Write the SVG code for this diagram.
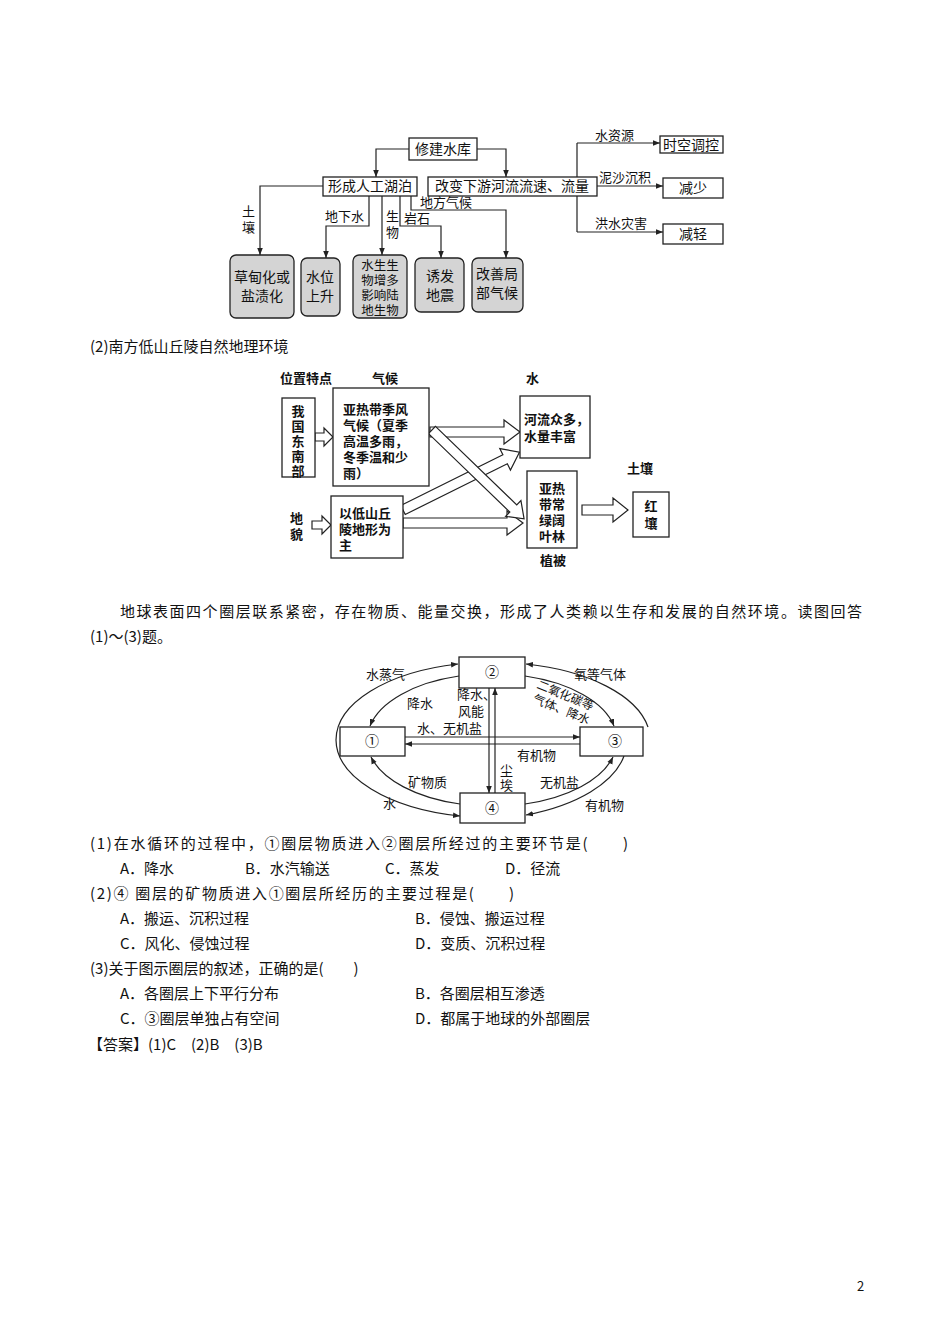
<svg xmlns="http://www.w3.org/2000/svg" width="950" height="1344" viewBox="0 0 950 1344">
<defs>
<marker id="ah" viewBox="0 0 10 10" refX="10" refY="5" markerWidth="7" markerHeight="7" orient="auto" markerUnits="userSpaceOnUse"><path d="M0,1 L10,5 L0,9 Z" fill="#222"/></marker>
</defs>
<style>
text{font-family:"Noto Sans CJK SC","Liberation Sans",sans-serif;fill:#111}
.t{font-size:14px}
.s{font-size:13px}
.b{font-size:15px;font-family:"Noto Sans CJK SC","Liberation Serif",serif}
.bx{fill:#fff;stroke:#222;stroke-width:1.3}
.gb{fill:#d4d4d4;stroke:#222;stroke-width:1.3}
.ln{fill:none;stroke:#222;stroke-width:1.2}
.la{fill:none;stroke:#222;stroke-width:1.2;marker-end:url(#ah)}
.ha{fill:#fff;stroke:#222;stroke-width:1.2}
</style>
<rect width="950" height="1344" fill="#fff"/>

<!-- Diagram 1 -->
<g id="d1-connectors">
<path class="la" d="M409,149 H376 V177"/>
<path class="la" d="M477,149 H506 V177"/>
<path class="la" d="M323,186 H260 V255"/>
<path class="la" d="M369,196 V226 H326 V258"/>
<path class="la" d="M382,196 V255"/>
<path class="la" d="M400,196 V226 H441 V258"/>
<path class="la" d="M411,196 V210 H506 V258"/>
<path class="ln" d="M597,186 H577 M577,143 V232"/>
<path class="la" d="M577,143 H660"/>
<path class="la" d="M597,186 H663"/>
<path class="la" d="M577,232 H663"/>
</g>
<g id="d1-labels" class="s">
<text x="242" y="216">土</text><text x="242" y="232">壤</text>
<text x="325" y="221">地下水</text>
<text x="386" y="221">生</text><text x="386" y="237">物</text>
<text x="404" y="223">岩石</text>
<text x="420" y="207">地方气候</text>
<text x="595" y="140">水资源</text>
<text x="599" y="182">泥沙沉积</text>
<text x="595" y="228">洪水灾害</text>
</g>
<g id="n-xiujian"><rect class="bx" x="409" y="138" width="68" height="22"/><text class="t" x="443" y="154" text-anchor="middle">修建水库</text></g>
<g id="n-hupo"><rect class="bx" x="323" y="177" width="94" height="19"/><text class="t" x="370" y="191" text-anchor="middle">形成人工湖泊</text></g>
<g id="n-gaibian"><rect class="bx" x="428" y="177" width="169" height="19"/><text class="t" x="512" y="191" text-anchor="middle">改变下游河流流速、流量</text></g>
<g id="n-shikong"><rect class="bx" x="660" y="136" width="63" height="17"/><text class="t" x="691" y="150" text-anchor="middle">时空调控</text></g>
<g id="n-jianshao"><rect class="bx" x="663" y="178" width="60" height="20"/><text class="t" x="693" y="193" text-anchor="middle">减少</text></g>
<g id="n-jianqing"><rect class="bx" x="663" y="224" width="60" height="20"/><text class="t" x="693" y="239" text-anchor="middle">减轻</text></g>
<g id="n-caodian"><rect class="gb" x="230" y="255" width="64" height="63" rx="6"/><text class="t" x="262" y="282" text-anchor="middle">草甸化或</text><text class="t" x="262" y="301" text-anchor="middle">盐渍化</text></g>
<g id="n-shuiwei"><rect class="gb" x="301" y="258" width="39" height="58" rx="6"/><text class="t" x="320" y="282" text-anchor="middle">水位</text><text class="t" x="320" y="301" text-anchor="middle">上升</text></g>
<g id="n-shengwu"><rect class="gb" x="353" y="255" width="54" height="63" rx="6"/><g font-size="12.5" text-anchor="middle"><text x="380" y="270">水生生</text><text x="380" y="285">物增多</text><text x="380" y="300">影响陆</text><text x="380" y="315">地生物</text></g></g>
<g id="n-dizhen"><rect class="gb" x="415" y="258" width="49" height="54" rx="6"/><text class="t" x="440" y="281" text-anchor="middle">诱发</text><text class="t" x="440" y="300" text-anchor="middle">地震</text></g>
<g id="n-qihou"><rect class="gb" x="472" y="258" width="51" height="54" rx="6"/><text class="t" x="497" y="279" text-anchor="middle">改善局</text><text class="t" x="497" y="298" text-anchor="middle">部气候</text></g>

<text class="b" x="90" y="352">(2)南方低山丘陵自然地理环境</text>

<!-- Diagram 2 -->
<g id="d2-labels" class="s" font-weight="bold">
<text x="280" y="383">位置特点</text>
<text x="372" y="383">气候</text>
<text x="526" y="383">水</text>
<text x="627" y="473">土壤</text>
<text x="540" y="565">植被</text>
<text x="290" y="523">地</text><text x="290" y="539">貌</text>
</g>
<g id="d2-connectors">
<polygon class="ha" transform="translate(315,437)" points="0,-4 9,-4 9,-9 18,0 9,9 9,4 0,4"/>
<polygon class="ha" transform="translate(312,525)" points="0,-4 10,-4 10,-9 19,0 10,9 10,4 0,4"/>
<polygon class="ha" transform="translate(430,432)" points="0,-5 74,-5 74,-12 90,0 74,12 74,5 0,5"/>
<polygon class="ha" transform="translate(403,523)" points="0,-5 104,-5 104,-12 120,0 104,12 104,5 0,5"/>
<polygon class="ha" transform="translate(403,510) rotate(-26.4)" points="0,-5 114,-5 114,-12 130,0 114,12 114,5 0,5"/>
<polygon class="ha" transform="translate(432,430) rotate(44)" points="0,-5 113,-5 113,-11 128,0 113,11 113,5 0,5"/>
<polygon class="ha" transform="translate(582,510)" points="0,-5 31,-5 31,-12 46,0 31,12 31,5 0,5"/>
</g>
<g id="n-dongnan"><rect class="bx" x="282" y="398" width="33" height="79"/><g class="s" font-weight="bold" text-anchor="middle"><text x="298" y="416">我</text><text x="298" y="431">国</text><text x="298" y="446">东</text><text x="298" y="461">南</text><text x="298" y="476">部</text></g></g>
<g id="n-jifeng"><rect class="bx" x="333" y="388" width="96" height="98"/><g class="s" font-weight="bold"><text x="343" y="414">亚热带季风</text><text x="343" y="430">气候（夏季</text><text x="343" y="446">高温多雨，</text><text x="343" y="462">冬季温和少</text><text x="343" y="478">雨）</text></g></g>
<g id="n-dixing"><rect class="bx" x="331" y="496" width="72" height="62"/><g class="s" font-weight="bold"><text x="339" y="518">以低山丘</text><text x="339" y="534">陵地形为</text><text x="339" y="550">主</text></g></g>
<g id="n-heliu"><rect class="bx" x="520" y="396" width="70" height="62"/><g class="s" font-weight="bold"><text x="524" y="424">河流众多，</text><text x="524" y="441">水量丰富</text></g></g>
<g id="n-senlin"><rect class="bx" x="527" y="471" width="50" height="77"/><g class="s" font-weight="bold" text-anchor="middle"><text x="552" y="493">亚热</text><text x="552" y="509">带常</text><text x="552" y="525">绿阔</text><text x="552" y="541">叶林</text></g></g>
<g id="n-hongrang"><rect class="bx" x="633" y="492" width="36" height="45"/><g class="s" font-weight="bold" text-anchor="middle"><text x="651" y="511">红</text><text x="651" y="528">壤</text></g></g>

<text class="b" x="120" y="617" textLength="742" lengthAdjust="spacing">地球表面四个圈层联系紧密，存在物质、能量交换，形成了人类赖以生存和发展的自然环境。读图回答</text>
<text class="b" x="90" y="642">(1)～(3)题。</text>

<!-- Diagram 3 -->
<g id="d3-connectors">
<path class="la" d="M336,740 A156,78 0 0 1 458,664"/>
<path class="la" d="M648,727 A156,78 0 0 0 526,664"/>
<path class="la" d="M336,740 A156,78 0 0 0 460,816"/>
<path class="la" d="M624,756 A156,78 0 0 1 526,815"/>
<path class="la" d="M459,676 A125,66 0 0 0 370,726"/>
<path class="la" d="M525,676 A125,66 0 0 1 614,726"/>
<path class="la" d="M460,804 A125,66 0 0 1 371,757"/>
<path class="la" d="M525,804 A125,66 0 0 0 613,757"/>
<path class="la" d="M405,737 H580"/>
<path class="la" d="M580,744 H405"/>
<path class="la" d="M489,688 V793"/>
<path class="la" d="M495,793 V688"/>
</g>
<g id="n-c2"><rect class="bx" x="459" y="657" width="66" height="31"/><text class="t" x="492" y="677" text-anchor="middle">②</text></g>
<g id="n-c1"><rect class="bx" x="340" y="727" width="65" height="29"/><text class="t" x="372" y="746" text-anchor="middle">①</text></g>
<g id="n-c3"><rect class="bx" x="580" y="727" width="63" height="29"/><text class="t" x="615" y="746" text-anchor="middle">③</text></g>
<g id="n-c4"><rect class="bx" x="460" y="793" width="65" height="30"/><text class="t" x="492" y="813" text-anchor="middle">④</text></g>
<g id="d3-labels" class="s">
<text x="366" y="679">水蒸气</text>
<text x="407" y="708">降水</text>
<text x="457" y="699">降水、</text>
<text x="458" y="716">风能</text>
<text x="574" y="679">氧等气体</text>
<text transform="translate(536,688) rotate(22)" font-size="12">二氧化碳等</text>
<text transform="translate(532,702) rotate(22)" font-size="12">气体、降水</text>
<text x="417" y="733">水、无机盐</text>
<text x="517" y="760">有机物</text>
<text x="500" y="775">尘</text><text x="500" y="790">埃</text>
<text x="408" y="787">矿物质</text>
<text x="383" y="808">水</text>
<text x="540" y="787">无机盐</text>
<text x="585" y="810">有机物</text>
</g>

<g id="questions" class="b">
<text x="90" y="849" textLength="538" lengthAdjust="spacing">(1)在水循环的过程中，①圈层物质进入②圈层所经过的主要环节是(　　)</text>
<text x="120" y="874">A．降水</text><text x="245" y="874">B．水汽输送</text><text x="385" y="874">C．蒸发</text><text x="505" y="874">D．径流</text>
<text x="90" y="899" textLength="424" lengthAdjust="spacing">(2)④ 圈层的矿物质进入①圈层所经历的主要过程是(　　)</text>
<text x="120" y="924">A．搬运、沉积过程</text><text x="415" y="924">B．侵蚀、搬运过程</text>
<text x="120" y="949">C．风化、侵蚀过程</text><text x="415" y="949">D．变质、沉积过程</text>
<text x="90" y="974">(3)关于图示圈层的叙述，正确的是(　　)</text>
<text x="120" y="999">A．各圈层上下平行分布</text><text x="415" y="999">B．各圈层相互渗透</text>
<text x="120" y="1024">C．③圈层单独占有空间</text><text x="415" y="1024">D．都属于地球的外部圈层</text>
<text x="88" y="1050">【答案】(1)C　(2)B　(3)B</text>
</g>
<text class="s" x="857" y="1291" font-family="Liberation Serif,serif">2</text>
</svg>
